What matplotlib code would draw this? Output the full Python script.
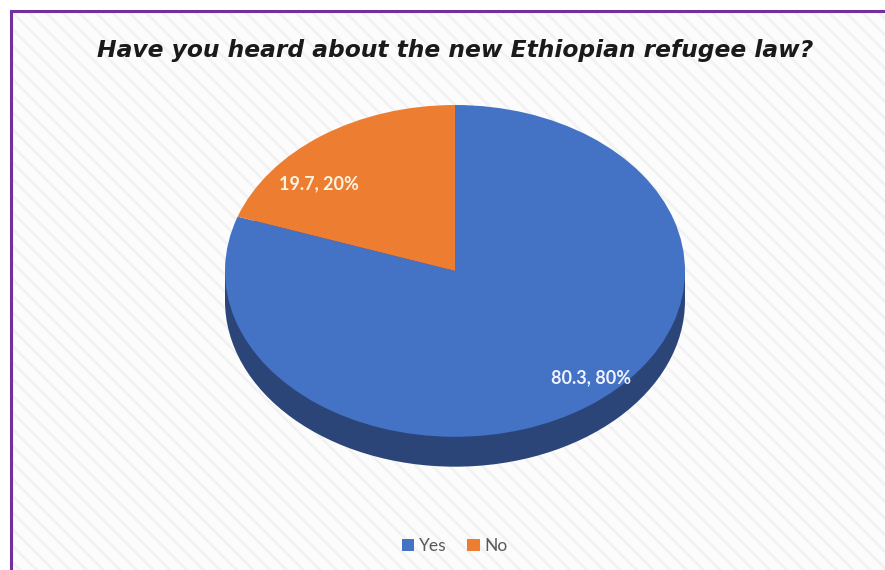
import numpy as np
import matplotlib.pyplot as plt
from matplotlib.patches import Ellipse, Rectangle, Patch

labels = ["Yes", "No"]
values = [80.3, 19.7]
percents = ["80%", "20%"]
colors = ["#4472C4", "#ED7D31"]
side_color = "#2B4579"
title = "Have you heard about the new Ethiopian refugee law?"

plt.rcParams['hatch.linewidth'] = 2.0

fig = plt.figure(figsize=(8.85, 5.7), dpi=100)
fig.patch.set_facecolor('white')

# chart area with faint diagonal stripes and purple border (cropped on right/bottom)
bg = Rectangle((11 / 885, -0.05), 1.1, 1 - 11 / 570 + 0.05, transform=fig.transFigure,
               facecolor='#fcfcfc', edgecolor='#f2f2f2', linewidth=0, hatch='\\\\', zorder=-2)
fig.patches.append(bg)
border = Rectangle((11 / 885, -0.05), 1.1, 1 - 11 / 570 + 0.05, transform=fig.transFigure,
                   facecolor='none', edgecolor='#7030A0', linewidth=2.2, zorder=5)
fig.patches.append(border)

fig.text(0.514, 1 - 50 / 570, title, ha='center', va='center', fontsize=16.8,
         fontstyle='italic', fontweight='bold', family='DejaVu Sans', color='#1a1a1a')

# pie axes: top face spans y -1..1, side extends below
thick = 0.18
ax = fig.add_axes([225 / 885, (570 - 470) / 570, 460 / 885, 365 / 570])
ax.set_facecolor('none')

# side of the 3D disc
ax.add_patch(Ellipse((0, -thick), 2, 2, facecolor=side_color, edgecolor='none', zorder=1))
ax.add_patch(Rectangle((-1, -thick), 2, thick, facecolor=side_color, edgecolor='none', zorder=1))

start = 90 + 360 * values[1] / sum(values)
wedges, _ = ax.pie(values, colors=colors, startangle=start, counterclock=True,
                   wedgeprops=dict(linewidth=0))
for w in wedges:
    w.set_zorder(2)

ax.set_aspect('auto')
ax.set_xlim(-1, 1)
ax.set_ylim(-1 - thick - 0.02, 1.0)
ax.axis('off')

label_colors = ["#EEF3FF", "#FFF4E2"]
for w, v, p, c in zip(wedges, values, percents, label_colors):
    mid = np.deg2rad((w.theta1 + w.theta2) / 2)
    ax.text(1.02 * np.cos(mid), 0.72 * np.sin(mid) - 0.06, f"{v}, {p}", ha='center', va='center',
            fontsize=13, fontweight='bold', family='Lato', color=c, zorder=3)

handles = [Patch(facecolor=c, edgecolor='none', label=l) for l, c in zip(labels, colors)]
fig.legend(handles=handles, loc='center', bbox_to_anchor=(0.514, 1 - 546 / 570), ncol=2,
           frameon=False, handlelength=0.7, handleheight=0.7, handletextpad=0.3,
           columnspacing=1.2, prop=dict(family='Lato', size=12.5), labelcolor='#595959')

fig.savefig('out.png', dpi=100)
